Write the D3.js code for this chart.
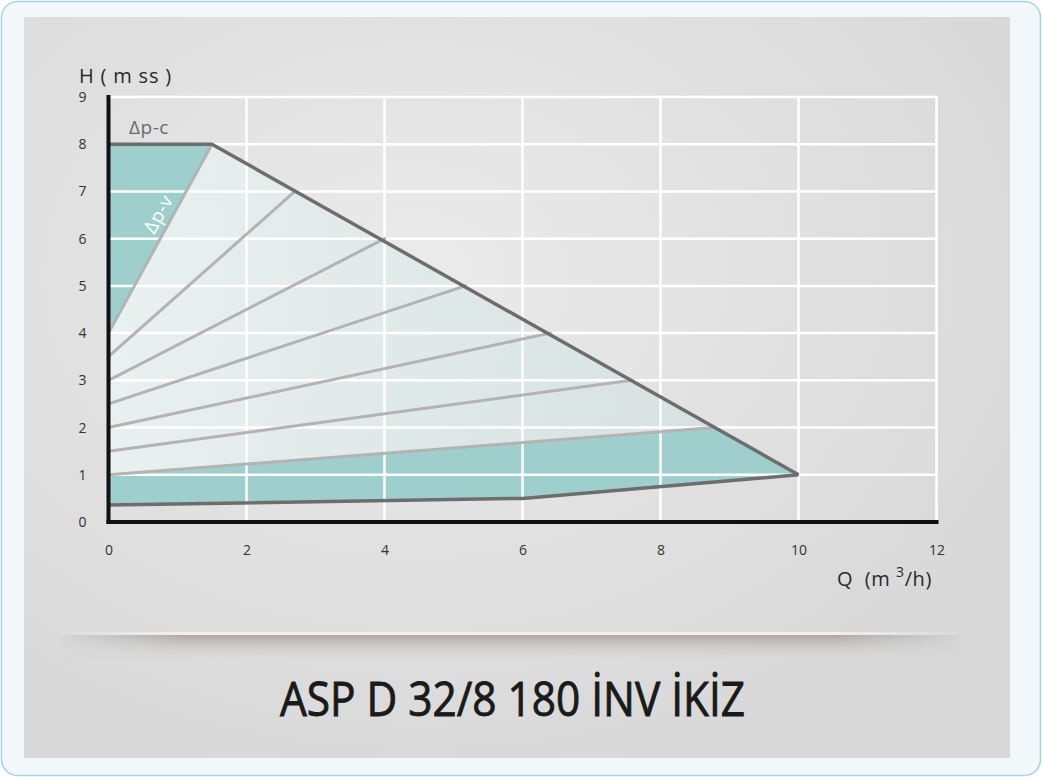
<!DOCTYPE html>
<html><head><meta charset="utf-8">
<script src="https://cdn.jsdelivr.net/npm/d3@7/dist/d3.min.js"></script>
<style>
html,body{margin:0;padding:0;background:#fff;}
svg{display:block;}
text{font-family:"Open Sans","Noto Sans",sans-serif;}
</style></head>
<body>
<script>
// ---- data ----
const xTicks = [0, 2, 4, 6, 8, 10, 12];
const yTicks = [0, 1, 2, 3, 4, 5, 6, 7, 8, 9];
const maxCurveQ = [0, 1.5, 10];
const maxCurveH = [8, 8, 1];
const minCurveQ = [0, 6, 10];
const minCurveH = [0.36, 0.5, 1];
const speedStartH = [4, 3.5, 3, 2.5, 2, 1.5, 1];
const speedEndQ = [1.5, 2.7, 4.0, 5.17, 6.4, 7.58, 8.78];
const speedEndH = [8, 7, 6, 5, 4, 3, 2];
const title = "ASP D 32/8 180 İNV İKİZ";
const yLabel = "H ( m ss )";
const dpcLabel = "Δp-c";
const dpvLabel = "Δp-v";

const W = 1042, H = 777;
const svg = d3.select("body").append("svg").attr("width", W).attr("height", H);
const defs = svg.append("defs");

// gradients
const pg = defs.append("radialGradient").attr("id","panelG").attr("cx","0.4").attr("cy","0.35").attr("r","0.7");
pg.append("stop").attr("offset","0").attr("stop-color","#ebebeb");
pg.append("stop").attr("offset","1").attr("stop-color","#d8d8d8");
const lg = defs.append("linearGradient").attr("id","lightG").attr("x1","0").attr("x2","1").attr("y1","0").attr("y2","0");
lg.append("stop").attr("offset","0").attr("stop-color","#eaf3f2").attr("stop-opacity",0.9);
lg.append("stop").attr("offset","1").attr("stop-color","#cddedd").attr("stop-opacity",0.6);
const sg = defs.append("linearGradient").attr("id","shadowV").attr("x1","0").attr("x2","0").attr("y1","0").attr("y2","1");
sg.append("stop").attr("offset","0").attr("stop-color","#aaa39d").attr("stop-opacity",0.95);
sg.append("stop").attr("offset","1").attr("stop-color","#d8d8d8").attr("stop-opacity",0);
const sh = defs.append("linearGradient").attr("id","shadowH").attr("x1","0").attr("x2","1");
sh.append("stop").attr("offset","0").attr("stop-color","#fff").attr("stop-opacity",0);
sh.append("stop").attr("offset","0.15").attr("stop-color","#fff").attr("stop-opacity",1);
sh.append("stop").attr("offset","0.85").attr("stop-color","#fff").attr("stop-opacity",1);
sh.append("stop").attr("offset","1").attr("stop-color","#fff").attr("stop-opacity",0);
const mask = defs.append("mask").attr("id","fadeMask");
mask.append("rect").attr("x",50).attr("y",620).attr("width",920).attr("height",60).attr("fill","url(#shadowH)");

// frame
svg.append("rect").attr("x",1.5).attr("y",1.5).attr("width",1039).attr("height",774).attr("rx",16)
  .attr("fill","#f2f7fa").attr("stroke","#a8d3e6").attr("stroke-width",1.5);
svg.append("rect").attr("x",24).attr("y",17).attr("width",986).attr("height",741).attr("fill","url(#panelG)");

// shadow under chart
const shadowG = svg.append("g").attr("mask","url(#fadeMask)");
shadowG.append("rect").attr("x",60).attr("y",632).attr("width",900).attr("height",3).attr("fill","#f0f0f0");
shadowG.append("rect").attr("x",60).attr("y",635).attr("width",900).attr("height",26).attr("fill","url(#shadowV)");

// scales
const x = d3.scaleLinear().domain([0,12]).range([108.5,936.5]);
const y = d3.scaleLinear().domain([0,9]).range([522,97]);

const line = d3.line().x(d=>x(d[0])).y(d=>y(d[1]));
const maxPts = maxCurveQ.map((q,i)=>[q,maxCurveH[i]]);
const minPts = minCurveQ.map((q,i)=>[q,minCurveH[i]]);
const speedLines = speedStartH.map((h,i)=>[[0,h],[speedEndQ[i],speedEndH[i]]]);

const plot = svg.append("g");
// light region
const lightPoly = [speedLines[0][0], speedLines[0][1], maxPts[2], speedLines[6][1], speedLines[6][0]];
plot.append("path").attr("d", line(lightPoly)+"Z").attr("fill","url(#lightG)");
// teal top
plot.append("path").attr("d", line([maxPts[0], maxPts[1], speedLines[0][0]])+"Z").attr("fill","#9fcfcc");
// teal bottom
plot.append("path").attr("d", line([minPts[0], minPts[1], minPts[2], speedLines[6][1], speedLines[6][0]])+"Z").attr("fill","#9fcfcc");

// grid
const grid = svg.append("g").attr("stroke","#ffffff").attr("stroke-width",2.5);
grid.selectAll("line.v").data(xTicks.slice(1)).join("line")
  .attr("x1",d=>x(d)).attr("x2",d=>x(d)).attr("y1",y(9)).attr("y2",y(0));
grid.selectAll("line.h").data(yTicks.slice(1)).join("line")
  .attr("x1",x(0)).attr("x2",x(12)+1.5).attr("y1",d=>y(d)).attr("y2",d=>y(d));

// speed lines
svg.append("g").selectAll("path").data(speedLines).join("path")
  .attr("d",line).attr("fill","none").attr("stroke","#b3b3b3").attr("stroke-width",3).attr("stroke-linecap","round");
// max & min curves
svg.append("path").attr("d",line(maxPts)).attr("fill","none").attr("stroke","#6d6d6d").attr("stroke-width",3.5).attr("stroke-linejoin","round");
svg.append("path").attr("d",line(minPts)).attr("fill","none").attr("stroke","#6d6d6d").attr("stroke-width",3.5).attr("stroke-linejoin","round");

// axes
const xAxis = d3.axisBottom(x).tickValues(xTicks).tickSize(0).tickPadding(20);
const yAxis = d3.axisLeft(y).tickValues(yTicks).tickSize(0).tickPadding(20);
const gx = svg.append("g").attr("transform",`translate(0,${y(0)})`).call(xAxis);
const gy = svg.append("g").attr("transform",`translate(${x(0)},0)`).call(yAxis);
[gx,gy].forEach(g=>{
  g.select(".domain").remove();
  g.selectAll("text").attr("font-family","'Open Sans',sans-serif").attr("font-size",14).attr("fill","#333");
});
gx.selectAll("text").attr("dy","0.35em").attr("y",28);
gy.selectAll("text").attr("x",-22);
svg.append("line").attr("x1",x(0)).attr("x2",x(0)).attr("y1",y(9)-2).attr("y2",y(0)+2).attr("stroke","#111").attr("stroke-width",4);
svg.append("line").attr("x1",x(0)-2).attr("x2",x(12)+2).attr("y1",y(0)).attr("y2",y(0)).attr("stroke","#111").attr("stroke-width",4);

// labels
svg.append("text").attr("x",79).attr("y",83).attr("font-size",20).attr("fill","#2a2a2a")
  .attr("letter-spacing",0.8).attr("xml:space","preserve").text(yLabel);
const q = svg.append("text").attr("x",932).attr("y",586).attr("text-anchor","end").attr("font-size",20).attr("fill","#2a2a2a")
  .attr("letter-spacing",0.6).attr("xml:space","preserve");
q.append("tspan").text("Q  (m ");
q.append("tspan").attr("font-size",14).attr("dy",-9).text("3");
q.append("tspan").attr("dy",9).text("/h)");

svg.append("text").attr("x",129).attr("y",y(8)-10).attr("font-size",19).attr("letter-spacing",0.5).attr("fill","#6a6a6a").text(dpcLabel);
const ang = Math.atan2(y(speedEndH[0])-y(speedStartH[0]), x(speedEndQ[0])-x(0))*180/Math.PI;
svg.append("text").attr("transform",`translate(${x(0.72)},${y(6.52)}) rotate(${ang})`)
  .attr("text-anchor","middle").attr("dy","0.35em").attr("font-size",19).attr("letter-spacing",0.5).attr("fill","#ffffff").text(dpvLabel);

// title
svg.append("text").attr("x",280).attr("y",716).attr("font-size",48).attr("fill","#1a1a1a")
  .attr("stroke","#1a1a1a").attr("stroke-width",0.9)
  .attr("textLength",465).attr("lengthAdjust","spacingAndGlyphs").text(title);
</script>
</body></html>
